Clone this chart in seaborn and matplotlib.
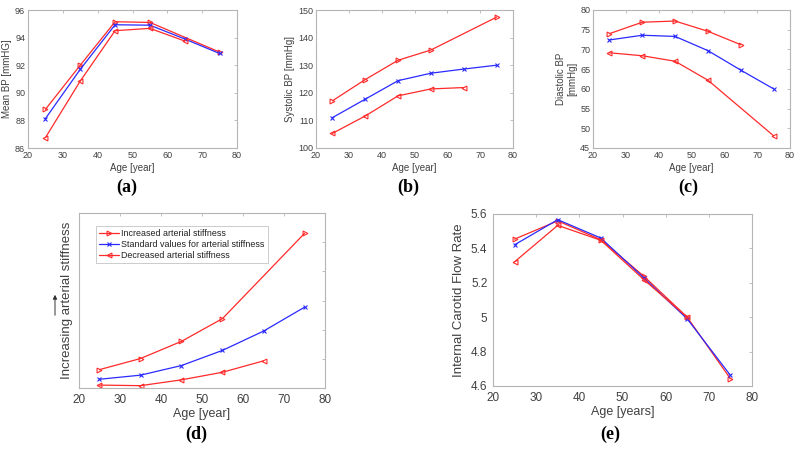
import matplotlib
matplotlib.use("Agg")
import matplotlib.pyplot as plt
import seaborn as sns
import numpy as np
import pandas as pd

# ---------------- data ----------------
ages_all = [25, 35, 45, 55, 65, 75]
ages_inc = [25, 35, 45, 55, 75]
ages_dec = [25, 35, 45, 55, 65]

# (a) Mean BP
a_inc = [88.8, 92.0, 95.15, 95.1, 92.95]
a_std = [88.13, 91.7, 94.93, 94.9, 93.9, 92.85]
a_dec = [86.75, 90.85, 94.5, 94.67, 93.75]

# (b) Systolic BP
b_inc = [117.1, 124.8, 131.8, 135.5, 147.4]
b_std = [111.0, 117.7, 124.4, 127.1, 128.6, 130.0]
b_dec = [105.3, 111.6, 118.9, 121.4, 121.9]

# (c) Diastolic BP
c_up_x = [25, 35, 45, 55, 65]
c_up = [74.0, 76.9, 77.2, 74.6, 71.2]
c_std = [72.4, 73.6, 73.3, 69.7, 64.75, 60.0]
c_lo_x = [25, 35, 45, 55, 75]
c_lo = [69.15, 68.4, 67.0, 62.2, 48.1]

# (d) arterial stiffness (arbitrary units)
d_inc = [0.63, 1.01, 1.60, 2.38, 5.30]
d_std = [0.30, 0.44, 0.77, 1.29, 1.95, 2.77]
d_dec = [0.10, 0.08, 0.28, 0.54, 0.93]

# (e) internal carotid flow rate
e_inc = [5.454, 5.56, 5.45, 5.237, 5.0, 4.642]
e_std = [5.421, 5.567, 5.46, 5.227, 4.99, 4.662]
e_dec = [5.322, 5.534, 5.447, 5.217, 5.0]

legend_labels = ["Increased arterial stiffness",
                 "Standard values for arterial stiffness",
                 "Decreased arterial stiffness"]

# ---------------- style ----------------
sns.set_style("white")
plt.rcParams["font.family"] = ["Liberation Sans", "DejaVu Sans"]

TXT = "#404040"
SPINE = "#b5b5b5"
RED = "#ff2a2a"
BLUE = "#2a2aff"

fig = plt.figure(figsize=(8.0, 4.49), dpi=100)

def fr(l, t, r, b):
    return [l / 800, 1 - b / 449, (r - l) / 800, (b - t) / 449]

def style(ax, fs, pad=2):
    for s in ax.spines.values():
        s.set_color(SPINE)
        s.set_linewidth(0.8)
        s.set_visible(True)
    ax.tick_params(direction="in", top=True, right=True, length=2.5,
                   width=0.6, color=SPINE, labelcolor=TXT, labelsize=fs, pad=pad)
    ax.set_xlim(20, 80)
    ax.set_xticks([20, 30, 40, 50, 60, 70, 80])

def series(ax, x, y, color, marker, label=None, ms=3.5):
    df = pd.DataFrame({"age": x, "val": y})
    kw = dict(markerfacecolor="none", markeredgecolor=color) if marker != "x" else dict(markeredgecolor=color)
    sns.lineplot(data=df, x="age", y="val", ax=ax, color=color, lw=0.9,
                 marker=marker, markersize=ms, markeredgewidth=0.8,
                 label=label, legend=False, **kw)

def draw3(ax, xi, yi, xs, ys, xd, yd, labels=(None, None, None)):
    series(ax, xi, yi, RED, ">", labels[0])
    series(ax, xs, ys, BLUE, "x", labels[1], ms=2.2)
    series(ax, xd, yd, RED, "<", labels[2])

FS_TOP = 6.5
FS_BOT = 8.5

# (a)
ax = fig.add_axes(fr(28, 10, 237, 148))
draw3(ax, ages_inc, a_inc, ages_all, a_std, ages_dec, a_dec)
style(ax, FS_TOP)
ax.set_ylim(86, 96)
ax.set_yticks([86, 88, 90, 92, 94, 96])
ax.set_xlabel("Age [year]", fontsize=7, color=TXT, labelpad=2)
ax.set_ylabel("Mean BP [mmHG]", fontsize=7, color=TXT, labelpad=2)

# (b)
ax = fig.add_axes(fr(316, 10, 513, 148))
draw3(ax, ages_inc, b_inc, ages_all, b_std, ages_dec, b_dec)
style(ax, FS_TOP)
ax.set_ylim(100, 150)
ax.set_yticks([100, 110, 120, 130, 140, 150])
ax.set_xlabel("Age [year]", fontsize=7, color=TXT, labelpad=2)
ax.set_ylabel("Systolic BP [mmHg]", fontsize=7, color=TXT, labelpad=2)

# (c)
ax = fig.add_axes(fr(593, 10, 790, 148))
series(ax, c_up_x, c_up, RED, ">")
series(ax, ages_all, c_std, BLUE, "x", ms=2.2)
series(ax, c_lo_x, c_lo, RED, "<")
style(ax, FS_TOP)
ax.set_ylim(45, 80)
ax.set_yticks([45, 50, 55, 60, 65, 70, 75, 80])
ax.set_xlabel("Age [year]", fontsize=7, color=TXT, labelpad=2)
ax.set_ylabel("Diastolic BP\n[mmHg]", fontsize=7, color=TXT, labelpad=2)

# (d)
ax = fig.add_axes(fr(79, 213, 325, 388))
draw3(ax, ages_inc, d_inc, ages_all, d_std, ages_dec, d_dec, labels=legend_labels)
style(ax, FS_BOT, pad=4)
ax.set_ylim(0, 6)
ax.set_yticks([0, 1, 2, 3, 4, 5, 6])
ax.set_yticklabels([])
ax.set_xlabel("Age [year]", fontsize=9, color=TXT, labelpad=2)
ax.set_ylabel("Increasing arterial stiffness", fontsize=9.5, color=TXT, labelpad=0)
leg = ax.legend(loc="upper left", bbox_to_anchor=(0.069, 0.926), fontsize=6.4,
                frameon=True, fancybox=False, edgecolor=SPINE, borderpad=0.35,
                handlelength=2.2, handletextpad=0.3, labelspacing=0.2,
                borderaxespad=0)
leg.get_frame().set_linewidth(0.6)
for t in leg.get_texts():
    t.set_color("#202020")
fig.add_artist(matplotlib.patches.FancyArrowPatch(
    (55 / 800, 1 - 318 / 449), (55 / 800, 1 - 292 / 449),
    transform=fig.transFigure, arrowstyle="-|>", mutation_scale=6,
    color="#303030", lw=0.7))

# (e)
ax = fig.add_axes(fr(493, 214, 752, 386))
series(ax, ages_all, e_inc, RED, ">")
series(ax, ages_all, e_std, BLUE, "x", ms=2.2)
series(ax, ages_dec, e_dec, RED, "<")
style(ax, FS_BOT, pad=4)
ax.set_ylim(4.6, 5.6)
ax.set_yticks([4.6, 4.8, 5.0, 5.2, 5.4, 5.6])
ax.set_yticklabels(["4.6", "4.8", "5", "5.2", "5.4", "5.6"])
ax.set_xlabel("Age [years]", fontsize=9, color=TXT, labelpad=2)
ax.set_ylabel("Internal Carotid Flow Rate", fontsize=9.5, color=TXT, labelpad=4)

# panel letters
for lab, x, y in [("(a)", 127, 187), ("(b)", 408, 187), ("(c)", 688, 187),
                  ("(d)", 196, 434), ("(e)", 610, 434)]:
    fig.text(x / 800, 1 - y / 449, lab, ha="center", va="center",
             fontsize=13, fontweight="bold", color="black",
             family=["Liberation Serif", "DejaVu Serif"])

fig.savefig("out.png", dpi=100)
